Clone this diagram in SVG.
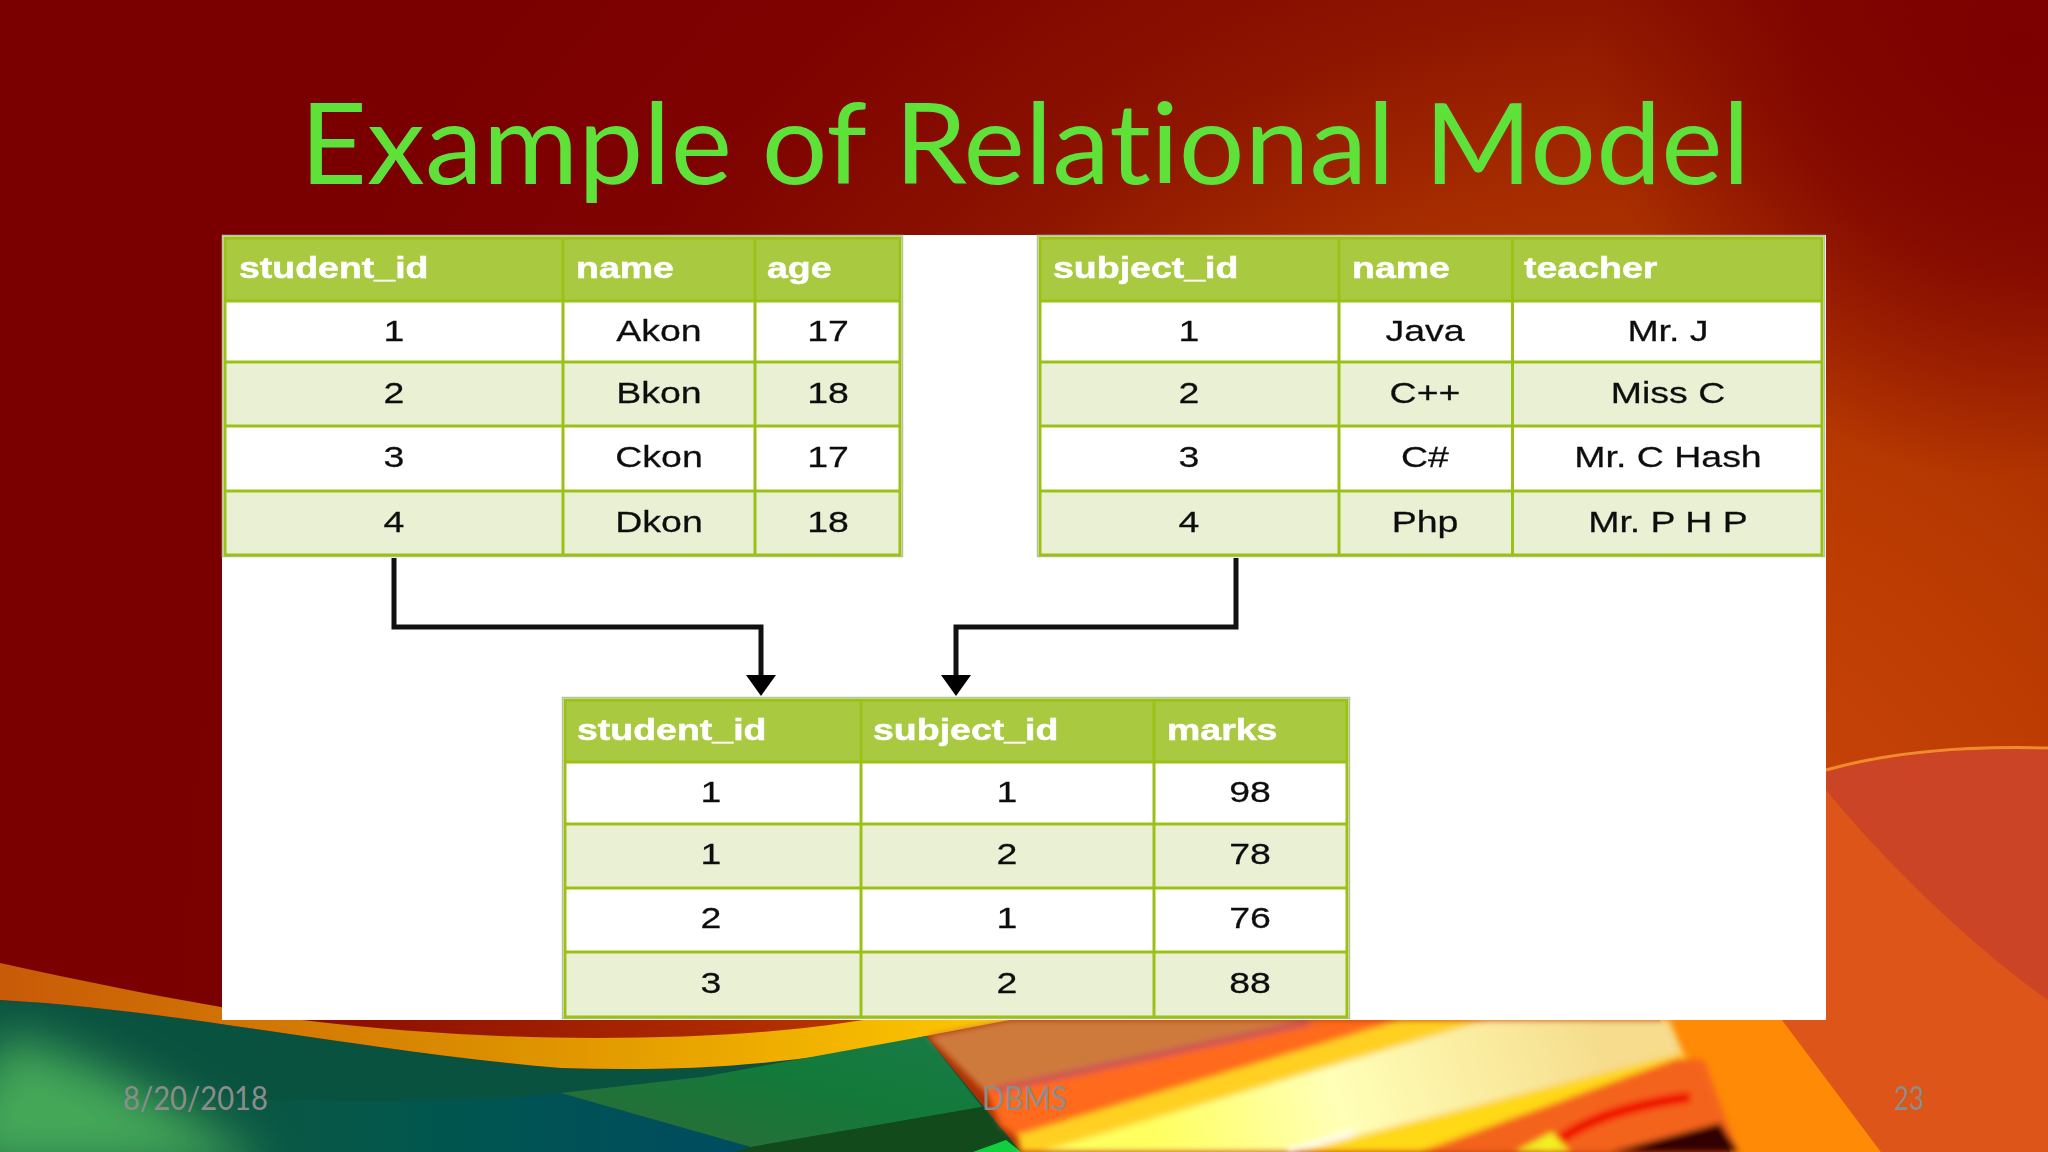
<svg xmlns="http://www.w3.org/2000/svg" width="2048" height="1152" viewBox="0 0 2048 1152">
<defs>
<radialGradient id="base" gradientUnits="userSpaceOnUse" cx="1650" cy="950" r="1500">
<stop offset="0" stop-color="#d04a10"/><stop offset="0.3" stop-color="#bc3c02"/><stop offset="0.5" stop-color="#a82e00"/><stop offset="0.64" stop-color="#8c1400"/><stop offset="0.82" stop-color="#7e0200"/><stop offset="1" stop-color="#7a0000"/>
</radialGradient>
<radialGradient id="corner" gradientUnits="userSpaceOnUse" cx="2020" cy="50" r="430">
<stop offset="0" stop-color="#7c0000"/><stop offset="0.5" stop-color="#7c0000" stop-opacity=".75"/><stop offset="1" stop-color="#7c0000" stop-opacity="0"/>
</radialGradient>
<linearGradient id="red" x1="0" y1="0" x2="1" y2="0">
<stop offset="0" stop-color="#8a0c00"/><stop offset="1" stop-color="#b83400"/>
</linearGradient>
<linearGradient id="band" gradientUnits="userSpaceOnUse" x1="0" y1="0" x2="1010" y2="0">
<stop offset="0" stop-color="#c85a08"/><stop offset="0.5" stop-color="#dc9000"/><stop offset="1" stop-color="#ffc800"/>
</linearGradient>
<linearGradient id="panel" x1="0" y1="1" x2="1" y2="0">
<stop offset="0" stop-color="#2f6a38"/><stop offset="0.6" stop-color="#127a3a"/><stop offset="1" stop-color="#1a7a48"/>
</linearGradient>
<linearGradient id="pale" gradientUnits="userSpaceOnUse" x1="1160" y1="1152" x2="1600" y2="1020">
<stop offset="0" stop-color="#ffff60"/><stop offset="0.4" stop-color="#ffffb8"/><stop offset="1" stop-color="#f6dc8c"/>
</linearGradient>
<linearGradient id="deep" gradientUnits="userSpaceOnUse" x1="200" y1="0" x2="800" y2="0">
<stop offset="0" stop-color="#08604e" stop-opacity="0"/><stop offset="0.4" stop-color="#00564e"/><stop offset="1" stop-color="#004a64"/>
</linearGradient>
<filter id="soft" x="-5%" y="-5%" width="110%" height="110%"><feGaussianBlur stdDeviation="0.6"/></filter>
<filter id="b2" x="-5%" y="-20%" width="110%" height="140%"><feGaussianBlur stdDeviation="3"/></filter>
<filter id="b25" x="-40%" y="-40%" width="180%" height="180%"><feGaussianBlur stdDeviation="25"/></filter>
<marker id="arrow" markerUnits="userSpaceOnUse" markerWidth="21" markerHeight="30" refX="5" refY="15" viewBox="0 0 21 30" orient="auto"><path d="M0 0L21 15L0 30Z" fill="#000"/></marker>
</defs>
<style>
.hd{fill:#a9c93f}.w{fill:#fff}.l{fill:#e9f0d4}
.gl{stroke:#9cc116;stroke-width:3;fill:none}
.out{fill:none;stroke:#b9c0a8;stroke-width:1.5}
.h{font:bold 30px "Liberation Sans",Arial,sans-serif;fill:#fff;stroke:#fff;stroke-width:.5}
.c{font:30px "Liberation Sans",Arial,sans-serif;fill:#111;text-anchor:middle;stroke:#111;stroke-width:.25}
.f{font-family:Lato,"Open Sans",sans-serif;font-size:32px;fill:#8c8c8c}
.conn{fill:none;stroke:#111;stroke-width:5;marker-end:url(#arrow)}
</style>

<g id="background">
<rect width="2048" height="1152" fill="url(#base)"/>
<rect width="2048" height="1152" fill="url(#corner)"/>
<path d="M1782 1020L1826 772C1900 752 1980 748 2048 750V1152H1881Z" fill="#dd5518"/>
<path d="M1826 772C1900 752 1980 748 2048 750V1000C1990 960 1900 880 1826 790Z" fill="#cc4426"/>
<path d="M1826 770C1890 752 1970 746 2048 748" fill="none" stroke="#f08a30" stroke-width="3"/>
<path d="M1660 1020H1782L1881 1152H1730Z" fill="#ff8a06"/>
<path d="M302 1020H863V1042H302Z" fill="url(#red)"/>
<path d="M0 1000C180 1010 350 1050 561 1068C680 1072 800 1066 926 1036L1021 1152H0Z" fill="#0a5240"/>
<path d="M200 1098C400 1104 480 1100 561 1093L751 1147L745 1152H200Z" fill="url(#deep)"/>
<path d="M0 1035C60 1045 170 1095 270 1170H-60Z" fill="#44a858" filter="url(#b25)"/>
<path d="M0 963C100 985 200 1005 302 1020C400 1032 500 1038 596 1038C700 1038 790 1032 863 1020H1010L926 1036C800 1066 680 1072 561 1068C350 1050 180 1010 0 1000Z" fill="url(#band)"/>
<path d="M561 1093L702 1077L926 1036L982 1107L751 1147Z" fill="url(#panel)"/>
<path d="M751 1147L982 1107L1021 1152H735Z" fill="#124a1c"/>
<path d="M973 1152L1006 1140L1021 1152Z" fill="#10d040"/>
<g filter="url(#b2)">
<path d="M928 1036L1010 1020H1325L995 1092L985 1092Z" fill="#cf7a3c"/>
<path d="M985 1088L1325 1020H1400L1017 1137L1000 1125Z" fill="#ff6a1c"/>
<path d="M995 1090L1310 1022" fill="none" stroke="#c85058" stroke-width="6"/>
<path d="M1017 1135L1400 1020H1486L1045 1152H1021Z" fill="#ffd020"/>
<path d="M1040 1152L1486 1020H1669L1683 1053L1295 1152Z" fill="url(#pale)"/>
<path d="M1295 1152L1683 1053L1690 1062L1440 1152Z" fill="#ffd818"/>
<path d="M1420 1152L1678 1058L1704 1060L1738 1152Z" fill="#f4641a"/>
<path d="M1544 1152C1570 1128 1610 1108 1690 1097" fill="none" stroke="#f01000" stroke-width="11"/>
<path d="M1610 1152L1720 1123L1738 1152Z" fill="#300505"/>
<path d="M1515 1152L1552 1132L1570 1152Z" fill="#f0f020"/>
<path d="M1288 1152L1354 1133" fill="none" stroke="#fff" stroke-width="5"/>
</g>
</g>

<rect id="panel-bg" x="222" y="235" width="1604" height="785" fill="#fff"/>

<g id="title"><text x="300" y="184" textLength="1450" lengthAdjust="spacingAndGlyphs" style="font:113px Lato,'Open Sans',sans-serif;fill:#5ee23a;font-variant-ligatures:none">Example of Relational Model</text></g>

<g id="table-students" filter="url(#soft)">
<rect x="222" y="235" width="681" height="322" class="w"/>
<rect x="224" y="237" width="677" height="64" class="hd"/>
<rect x="226" y="362" width="673" height="64" class="l"/>
<rect x="226" y="491" width="673" height="64" class="l"/>
<rect x="222.5" y="235.500" width="680" height="321" class="out"/>
<rect x="225" y="238" width="675" height="317" class="gl"/>
<path class="gl" d="M225 301H900M225 362H900M225 426H900M225 491H900M563 238V555M755 238V555"/>
<text class="h" transform="matrix(1.25 0 0 1 239 278)">student_id</text>
<text class="h" transform="matrix(1.25 0 0 1 576 278)">name</text>
<text class="h" transform="matrix(1.25 0 0 1 767 278)">age</text>
<text class="c" transform="matrix(1.25 0 0 1 394 341)">1</text><text class="c" transform="matrix(1.25 0 0 1 659 341)">Akon</text><text class="c" transform="matrix(1.25 0 0 1 828 341)">17</text>
<text class="c" transform="matrix(1.25 0 0 1 394 403)">2</text><text class="c" transform="matrix(1.25 0 0 1 659 403)">Bkon</text><text class="c" transform="matrix(1.25 0 0 1 828 403)">18</text>
<text class="c" transform="matrix(1.25 0 0 1 394 467)">3</text><text class="c" transform="matrix(1.25 0 0 1 659 467)">Ckon</text><text class="c" transform="matrix(1.25 0 0 1 828 467)">17</text>
<text class="c" transform="matrix(1.25 0 0 1 394 532)">4</text><text class="c" transform="matrix(1.25 0 0 1 659 532)">Dkon</text><text class="c" transform="matrix(1.25 0 0 1 828 532)">18</text>
</g>

<g id="table-subjects" filter="url(#soft)">
<rect x="1037" y="235" width="788" height="322" class="w"/>
<rect x="1039" y="237" width="784" height="64" class="hd"/>
<rect x="1041" y="362" width="780" height="64" class="l"/>
<rect x="1041" y="491" width="780" height="64" class="l"/>
<rect x="1037.500" y="235.500" width="787" height="321" class="out"/>
<rect x="1040" y="238" width="782" height="317" class="gl"/>
<path class="gl" d="M1040 301H1822M1040 362H1822M1040 426H1822M1040 491H1822M1339 238V555M1512.500 238V555"/>
<text class="h" transform="matrix(1.25 0 0 1 1053 278)">subject_id</text>
<text class="h" transform="matrix(1.25 0 0 1 1352 278)">name</text>
<text class="h" transform="matrix(1.25 0 0 1 1524 278)">teacher</text>
<text class="c" transform="matrix(1.25 0 0 1 1189 341)">1</text><text class="c" transform="matrix(1.25 0 0 1 1425 341)">Java</text><text class="c" transform="matrix(1.25 0 0 1 1668 341)">Mr. J</text>
<text class="c" transform="matrix(1.25 0 0 1 1189 403)">2</text><text class="c" transform="matrix(1.25 0 0 1 1425 403)">C++</text><text class="c" transform="matrix(1.25 0 0 1 1668 403)">Miss C</text>
<text class="c" transform="matrix(1.25 0 0 1 1189 467)">3</text><text class="c" transform="matrix(1.25 0 0 1 1425 467)">C#</text><text class="c" transform="matrix(1.25 0 0 1 1668 467)">Mr. C Hash</text>
<text class="c" transform="matrix(1.25 0 0 1 1189 532)">4</text><text class="c" transform="matrix(1.25 0 0 1 1425 532)">Php</text><text class="c" transform="matrix(1.25 0 0 1 1668 532)">Mr. P H P</text>
</g>

<g id="table-marks" filter="url(#soft)">
<rect x="562" y="697" width="788" height="322" class="w"/>
<rect x="564" y="699" width="784" height="63" class="hd"/>
<rect x="566" y="824" width="780" height="64" class="l"/>
<rect x="566" y="952" width="780" height="65" class="l"/>
<rect x="562.500" y="697.500" width="787" height="321" class="out"/>
<rect x="565" y="700" width="782" height="317" class="gl"/>
<path class="gl" d="M565 762H1347M565 824H1347M565 888H1347M565 952H1347M861 700V1017M1154 700V1017"/>
<text class="h" transform="matrix(1.25 0 0 1 577 740)">student_id</text>
<text class="h" transform="matrix(1.25 0 0 1 873 740)">subject_id</text>
<text class="h" transform="matrix(1.25 0 0 1 1167 740)">marks</text>
<text class="c" transform="matrix(1.25 0 0 1 711 802)">1</text><text class="c" transform="matrix(1.25 0 0 1 1007 802)">1</text><text class="c" transform="matrix(1.25 0 0 1 1250 802)">98</text>
<text class="c" transform="matrix(1.25 0 0 1 711 864)">1</text><text class="c" transform="matrix(1.25 0 0 1 1007 864)">2</text><text class="c" transform="matrix(1.25 0 0 1 1250 864)">78</text>
<text class="c" transform="matrix(1.25 0 0 1 711 928)">2</text><text class="c" transform="matrix(1.25 0 0 1 1007 928)">1</text><text class="c" transform="matrix(1.25 0 0 1 1250 928)">76</text>
<text class="c" transform="matrix(1.25 0 0 1 711 993)">3</text><text class="c" transform="matrix(1.25 0 0 1 1007 993)">2</text><text class="c" transform="matrix(1.25 0 0 1 1250 993)">88</text>
</g>

<g id="connectors">
<path class="conn" d="M394 558V627H761V680"/>
<path class="conn" d="M1236 558V627H956V680"/>
</g>

<g id="footer">
<text class="f" x="123" y="1110" textLength="145" lengthAdjust="spacingAndGlyphs">8/20/2018</text>
<text class="f" x="982" y="1110" textLength="85" lengthAdjust="spacingAndGlyphs">DBMS</text>
<text class="f" x="1894" y="1110" textLength="30" lengthAdjust="spacingAndGlyphs">23</text>
</g>
</svg>
